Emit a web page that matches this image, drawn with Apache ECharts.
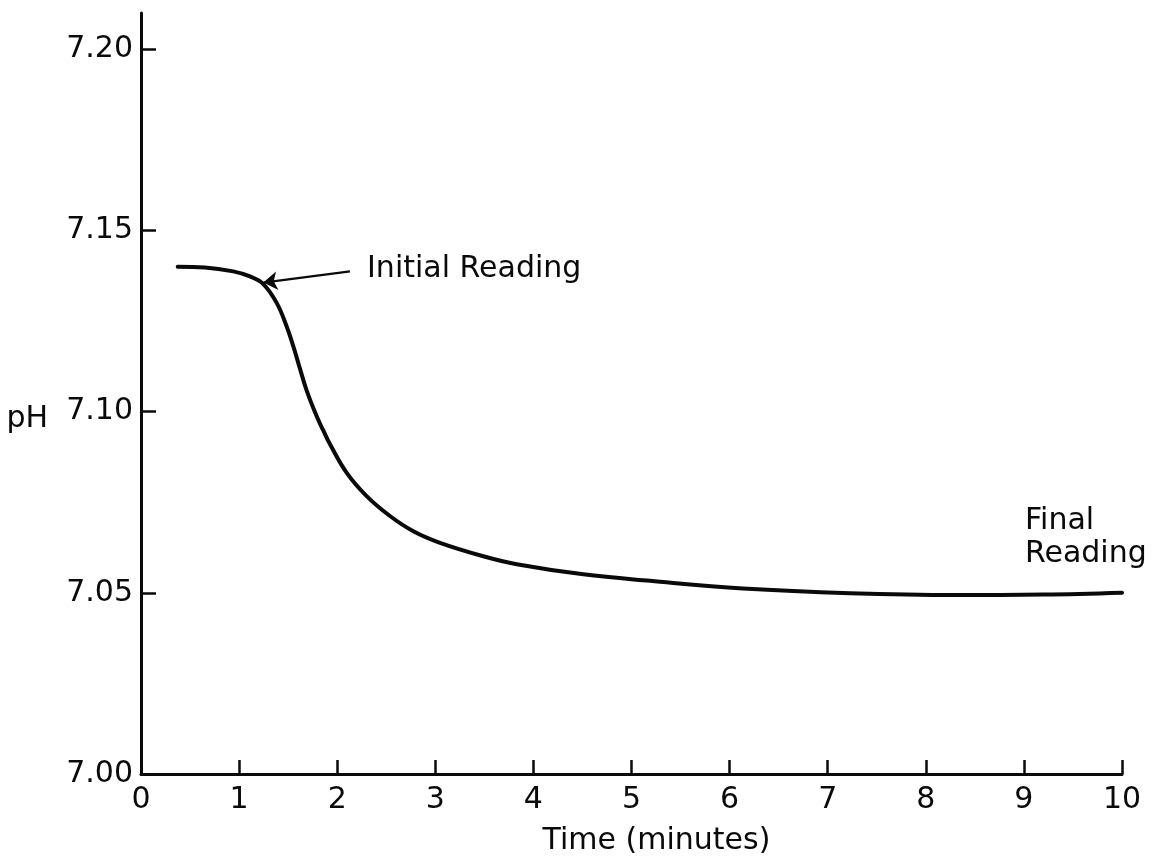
<!DOCTYPE html>
<html>
<head>
<meta charset="utf-8">
<script src="https://cdn.jsdelivr.net/npm/echarts@6/dist/echarts.min.js"></script>
<style>
html,body{margin:0;padding:0;background:#fff;}
#chart{width:1154px;height:861px;}
</style>
</head>
<body>
<div id="chart"></div>
<script>
// Data
const timeMinutes = [0.374, 0.65, 0.941, 1.111, 1.247, 1.383, 1.485, 1.553, 1.621, 1.689, 1.791, 1.858, 1.927, 2.097, 2.30, 2.538, 2.776, 3.048, 3.489, 3.830, 4.509, 5.189, 6.137, 7.227, 8.318, 9.2, 10.0];
const phValues    = [7.1400, 7.1398, 7.1387, 7.1373, 7.1352, 7.1300, 7.1235, 7.1180, 7.1118, 7.1058, 7.0987, 7.0948, 7.0910, 7.0831, 7.0767, 7.0712, 7.0670, 7.0638, 7.0601, 7.0579, 7.0551, 7.0533, 7.0512, 7.0499, 7.0494, 7.0495, 7.0500];
const yTicks = [7.00, 7.05, 7.10, 7.15, 7.20];
const xTicks = [0, 1, 2, 3, 4, 5, 6, 7, 8, 9, 10];
const initialLabel = { text: 'Initial Reading', x: 2.304, y: 7.1394 };
const initialArrow = { from: [2.130, 7.1387], to: [1.247, 7.1356] };
const finalLabel = { text: 'Final\nReading', x: 9.011, y: 7.0652 };

const FONT = 'DejaVu Sans';
const INK = '#0a0a0a';
const chart = echarts.init(document.getElementById('chart'), null, { renderer: 'canvas' });

const seriesData = timeMinutes.map((t, i) => [t, phValues[i]]);

chart.setOption({
  backgroundColor: '#ffffff',
  animation: false,
  grid: { left: 141, right: 32, top: 13, bottom: 86, containLabel: false },
  xAxis: {
    type: 'value',
    min: 0, max: 10, interval: 1,
    name: '{pad|}{t|Time (minutes)}',
    nameLocation: 'middle',
    nameGap: 52,
    nameTextStyle: {
      fontFamily: FONT, fontSize: 30, color: INK,
      rich: { pad: { width: 50, fontSize: 30 }, t: { fontFamily: FONT, fontSize: 30, color: INK } }
    },
    axisLine: { show: true, lineStyle: { color: INK, width: 3 } },
    axisTick: { show: true, inside: true, length: 14, lineStyle: { color: INK, width: 2.5 }, customValues: xTicks },
    axisLabel: { show: true, margin: 11, fontFamily: FONT, fontSize: 30, color: INK, customValues: xTicks, formatter: v => String(v) },
    splitLine: { show: false }
  },
  yAxis: {
    type: 'value',
    min: 7.00, max: 7.21,
    name: 'pH',
    nameLocation: 'middle',
    nameRotate: 0,
    nameGap: 93,
    nameTextStyle: { fontFamily: FONT, fontSize: 30, color: INK, verticalAlign: 'top', lineHeight: 52 },
    axisLine: { show: true, lineStyle: { color: INK, width: 3 } },
    axisTick: { show: true, inside: true, length: 15, lineStyle: { color: INK, width: 2.5 }, customValues: yTicks },
    axisLabel: { show: true, margin: 8, fontFamily: FONT, fontSize: 30, color: INK, customValues: yTicks, formatter: v => v.toFixed(2) },
    splitLine: { show: false }
  },
  series: [{
    type: 'line',
    data: seriesData,
    smooth: 0.4,
    showSymbol: false,
    symbol: 'none',
    lineStyle: { color: INK, width: 4, cap: 'round', join: 'round' },
    silent: true,
    markLine: {
      silent: true,
      symbol: ['none', 'arrow'],
      symbolSize: 14,
      label: { show: false },
      lineStyle: { color: INK, width: 2.2, type: 'solid' },
      emphasis: { disabled: true },
      data: [[ { coord: initialArrow.from }, { coord: initialArrow.to } ]]
    },
    markPoint: {
      silent: true,
      symbol: 'circle',
      symbolSize: 0,
      data: [
        { coord: [initialLabel.x, initialLabel.y], label: { show: true, formatter: initialLabel.text, position: 'right', distance: 0, fontFamily: FONT, fontSize: 30, color: INK } },
        { coord: [finalLabel.x, finalLabel.y], label: { show: true, formatter: finalLabel.text, position: 'right', distance: 0, align: 'left', lineHeight: 33, fontFamily: FONT, fontSize: 30, color: INK } }
      ]
    }
  }]
});
</script>
</body>
</html>
